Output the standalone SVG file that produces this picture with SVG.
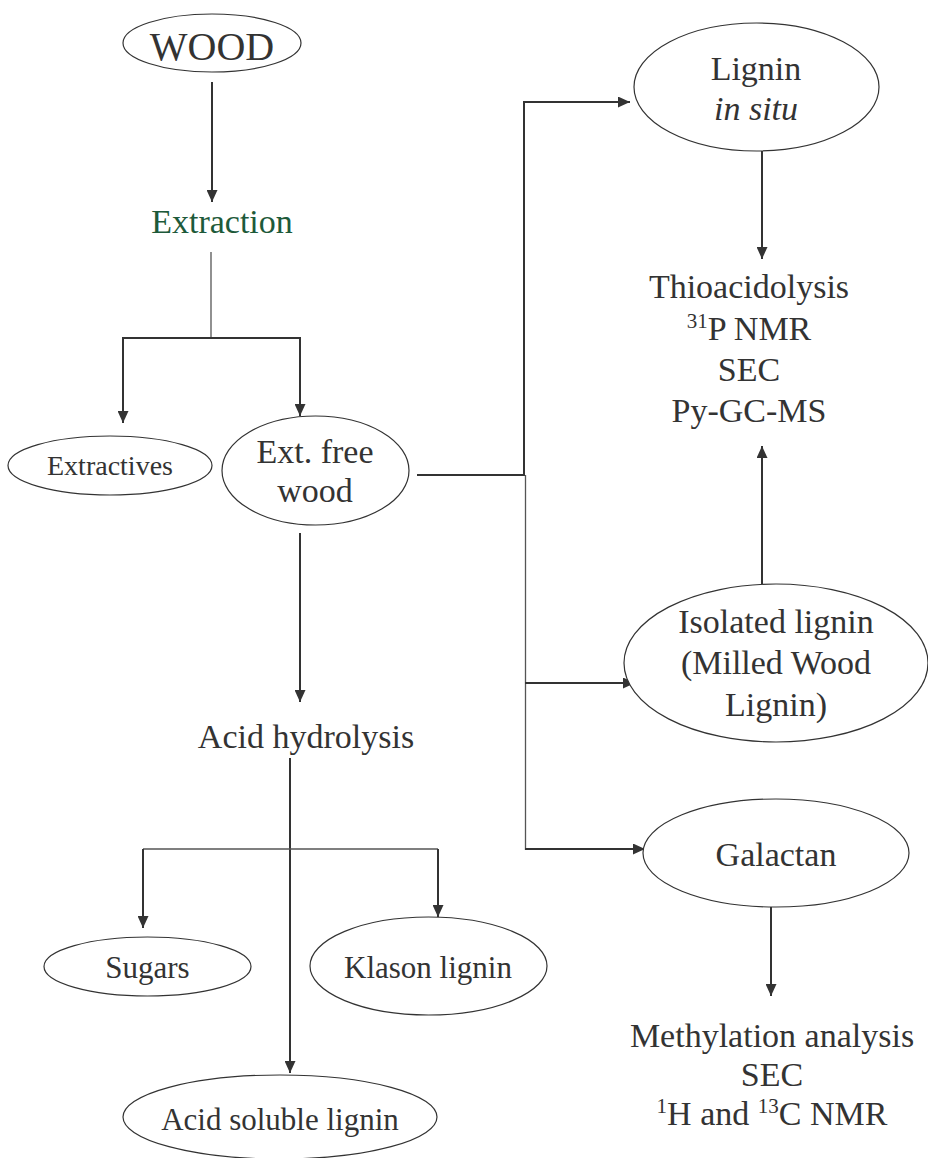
<svg xmlns="http://www.w3.org/2000/svg" width="928" height="1158" viewBox="0 0 928 1158">
<style>
text{fill:#333;text-anchor:middle;font-family:'Liberation Serif'}
.n{fill:#fff;stroke:#333;stroke-width:1.2}
.c{fill:none;stroke:#333;stroke-width:2}
.t{fill:none;stroke:#555;stroke-width:1.3}
.f34{font-size:34px}
.f31{font-size:31px}
.sup{font-size:21px}
</style>
<defs>
<marker id="ah" viewBox="0 0 12 11" markerWidth="12" markerHeight="11" refX="12" refY="5.5" orient="auto" markerUnits="userSpaceOnUse">
<path d="M0,0 L12,5.5 L0,11 z" fill="#333"/>
</marker>
</defs>
<g id="connectors">
<line class="c" x1="212" y1="82" x2="212" y2="202" marker-end="url(#ah)"/>
<line class="t" x1="211" y1="252" x2="211" y2="338"/>
<path class="c" d="M122,338 H301"/>
<line class="c" x1="123" y1="338" x2="123" y2="423" marker-end="url(#ah)"/>
<line class="c" x1="300" y1="338" x2="300" y2="416" marker-end="url(#ah)"/>
<path class="c" d="M417,475 H524 V102 H630" marker-end="url(#ah)"/>
<line class="t" x1="525.5" y1="475" x2="525.5" y2="850"/>
<line class="c" x1="525" y1="683" x2="635" y2="683" marker-end="url(#ah)"/>
<line class="c" x1="525" y1="849" x2="645" y2="849" marker-end="url(#ah)"/>
<line class="c" x1="762" y1="151" x2="762" y2="259" marker-end="url(#ah)"/>
<line class="c" x1="762" y1="603" x2="762" y2="446" marker-end="url(#ah)"/>
<line class="c" x1="771" y1="907" x2="771" y2="996" marker-end="url(#ah)"/>
<line class="c" x1="300" y1="533" x2="300" y2="702" marker-end="url(#ah)"/>
<line class="c" x1="290" y1="758" x2="290" y2="1073" marker-end="url(#ah)"/>
<path class="t" d="M143,849 H438"/>
<line class="c" x1="143" y1="849" x2="143" y2="928" marker-end="url(#ah)"/>
<line class="c" x1="438" y1="849" x2="438" y2="917" marker-end="url(#ah)"/>
</g>
<g id="wood">
<ellipse class="n" cx="212" cy="43" rx="89" ry="29"/>
<text x="212" y="60" font-family="Liberation Serif" style="font-size:40px">WOOD</text>
</g>
<g id="extraction">
<text x="222" y="233" font-family="Liberation Serif" class="f34" style="fill:#1d5a3a">Extraction</text>
</g>
<g id="extractives">
<ellipse class="n" cx="110" cy="465.5" rx="102" ry="29.5"/>
<text x="110" y="475" font-family="Liberation Serif" style="font-size:28px">Extractives</text>
</g>
<g id="ext-free-wood">
<ellipse class="n" cx="315.5" cy="470.5" rx="93.5" ry="54.5"/>
<text x="315" y="463" font-family="Liberation Serif" class="f34">Ext. free</text>
<text x="315" y="502" font-family="Liberation Serif" class="f34">wood</text>
</g>
<g id="lignin-in-situ">
<ellipse class="n" cx="756.5" cy="87" rx="122.5" ry="64"/>
<text x="756" y="80" font-family="Liberation Serif" class="f34">Lignin</text>
<text x="756" y="120" font-family="Liberation Serif" class="f34" font-style="italic">in situ</text>
</g>
<g id="lignin-analysis">
<text x="749" y="298" font-family="Liberation Serif" class="f34">Thioacidolysis</text>
<text x="749" y="340" font-family="Liberation Serif" class="f34"><tspan class="sup" dy="-12">31</tspan><tspan dy="12">P NMR</tspan></text>
<text x="749" y="381" font-family="Liberation Serif" class="f34">SEC</text>
<text x="749" y="422" font-family="Liberation Serif" class="f34">Py-GC-MS</text>
</g>
<g id="isolated-lignin">
<ellipse class="n" cx="776" cy="663" rx="152" ry="79"/>
<text x="776" y="633" font-family="Liberation Serif" class="f34">Isolated lignin</text>
<text x="776" y="674" font-family="Liberation Serif" class="f34">(Milled Wood</text>
<text x="776" y="716" font-family="Liberation Serif" class="f34">Lignin)</text>
</g>
<g id="galactan">
<ellipse class="n" cx="776" cy="853" rx="133" ry="54"/>
<text x="776" y="866" font-family="Liberation Serif" class="f34">Galactan</text>
</g>
<g id="galactan-analysis">
<text x="772" y="1047" font-family="Liberation Serif" class="f34">Methylation analysis</text>
<text x="772" y="1086" font-family="Liberation Serif" class="f34">SEC</text>
<text x="772" y="1125" font-family="Liberation Serif" class="f34"><tspan class="sup" dy="-12">1</tspan><tspan dy="12">H and </tspan><tspan class="sup" dy="-12">13</tspan><tspan dy="12">C NMR</tspan></text>
</g>
<g id="acid-hydrolysis">
<text x="306" y="748" font-family="Liberation Serif" class="f34">Acid hydrolysis</text>
</g>
<g id="sugars">
<ellipse class="n" cx="147.5" cy="966.5" rx="103.5" ry="29.5"/>
<text x="147.5" y="978" font-family="Liberation Serif" class="f31">Sugars</text>
</g>
<g id="klason-lignin">
<ellipse class="n" cx="428.5" cy="966" rx="118.5" ry="49"/>
<text x="428" y="978" font-family="Liberation Serif" class="f31">Klason lignin</text>
</g>
<g id="acid-soluble-lignin">
<ellipse class="n" cx="280" cy="1117" rx="157" ry="42"/>
<text x="280" y="1130" font-family="Liberation Serif" class="f31">Acid soluble lignin</text>
</g>
</svg>
